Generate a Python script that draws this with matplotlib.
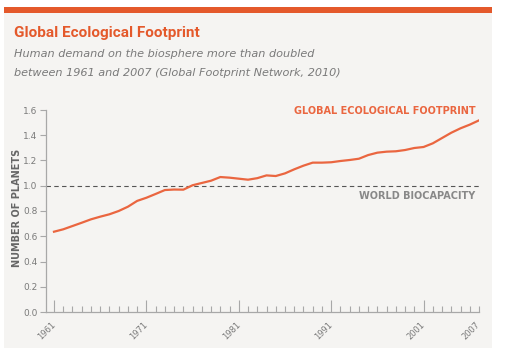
import numpy as np
import matplotlib.pyplot as plt
from matplotlib.patches import Rectangle
from matplotlib.ticker import MultipleLocator

years = np.arange(1961, 2008)
footprint = [0.636, 0.655, 0.681, 0.707, 0.734, 0.755, 0.774, 0.80, 0.834, 0.88,
             0.905, 0.935, 0.966, 0.970, 0.969, 1.004, 1.022, 1.04, 1.069, 1.064,
             1.056, 1.048, 1.06, 1.082, 1.077, 1.098, 1.13, 1.159, 1.183, 1.183,
             1.186, 1.196, 1.204, 1.214, 1.243, 1.262, 1.27, 1.273, 1.283, 1.299,
             1.307, 1.336, 1.378, 1.42, 1.455, 1.484, 1.518]
biocapacity = 1.0
label_years = [1961, 1971, 1981, 1991, 2001, 2007]

orange = '#e4592b'
line_orange = '#ea6640'
grey = '#7a7a7a'
panel = '#f5f4f2'

fig = plt.figure(figsize=(5.09, 3.6), dpi=100)
fig.patch.set_facecolor('white')

# background panel and top bar
fig.patches.append(Rectangle((4/509, 1-348/360), 488/509, (348-12)/360,
                             transform=fig.transFigure, facecolor=panel, edgecolor='none', zorder=-2))
fig.patches.append(Rectangle((4/509, 1-12.5/360), 488/509, 5.5/360,
                             transform=fig.transFigure, facecolor=orange, edgecolor='none', zorder=-2))

fig.text(14/509, 1-33/360, 'Global Ecological Footprint', color=orange, fontsize=11,
         fontweight='bold', family=['Liberation Sans Narrow', 'Roboto'], va='center')
fig.text(14/509, 1-54/360, 'Human demand on the biosphere more than doubled', color=grey,
         fontsize=8.1, style='italic', va='center')
fig.text(14/509, 1-73/360, 'between 1961 and 2007 (Global Footprint Network, 2010)', color=grey,
         fontsize=8.1, style='italic', va='center')

ax = fig.add_axes([46/509, 1-312/360, 433/509, 202/360])
ax.set_zorder(1)
ax.set_facecolor('none')
ax.plot(years, footprint, color=line_orange, lw=1.6, zorder=3)
ax.axhline(biocapacity, color='#555555', lw=0.8, ls=(0, (4, 3)), zorder=2)

ax.set_xlim(1961 - 8/9.239, 2007)
ax.set_ylim(0, 1.6)

for s in ['top', 'right']:
    ax.spines[s].set_visible(False)
for s in ['left', 'bottom']:
    ax.spines[s].set_color('#a8a8a8')
    ax.spines[s].set_linewidth(0.9)

ax.yaxis.set_major_locator(MultipleLocator(0.2))
ax.set_yticklabels([f'{v:.1f}' for v in ax.get_yticks()])
ax.tick_params(axis='y', direction='out', length=4, width=0.8, color='#a8a8a8',
               labelsize=6.5, labelcolor=grey, pad=2)

ax.set_xticks(label_years)
ax.set_xticklabels([str(y) for y in label_years], rotation=45, ha='right',
                   va='center', rotation_mode='anchor')
ax.xaxis.set_minor_locator(MultipleLocator(1))
ax.tick_params(axis='x', which='major', direction='in', length=9, width=0.8, color='#a8a8a8',
               labelsize=6, labelcolor=grey, pad=8)
ax.tick_params(axis='x', which='minor', direction='in', length=4, width=0.8, color='#a8a8a8')
ax.xaxis.get_major_ticks()[-1].tick1line.set_markersize(4)

ax.set_ylabel('NUMBER OF PLANETS', fontsize=7, fontweight='bold', color='#666666')
ax.yaxis.set_label_coords(-24/433, 0.517)

ax.text(2006.6, 1.59, 'GLOBAL ECOLOGICAL FOOTPRINT', color=line_orange, fontsize=7,
        fontweight='bold', ha='right', va='center')
ax.text(2006.6, 0.92, 'WORLD BIOCAPACITY', color='#888888', fontsize=7,
        fontweight='bold', ha='right', va='center')

fig.savefig('out.png', dpi=100, facecolor='white')
